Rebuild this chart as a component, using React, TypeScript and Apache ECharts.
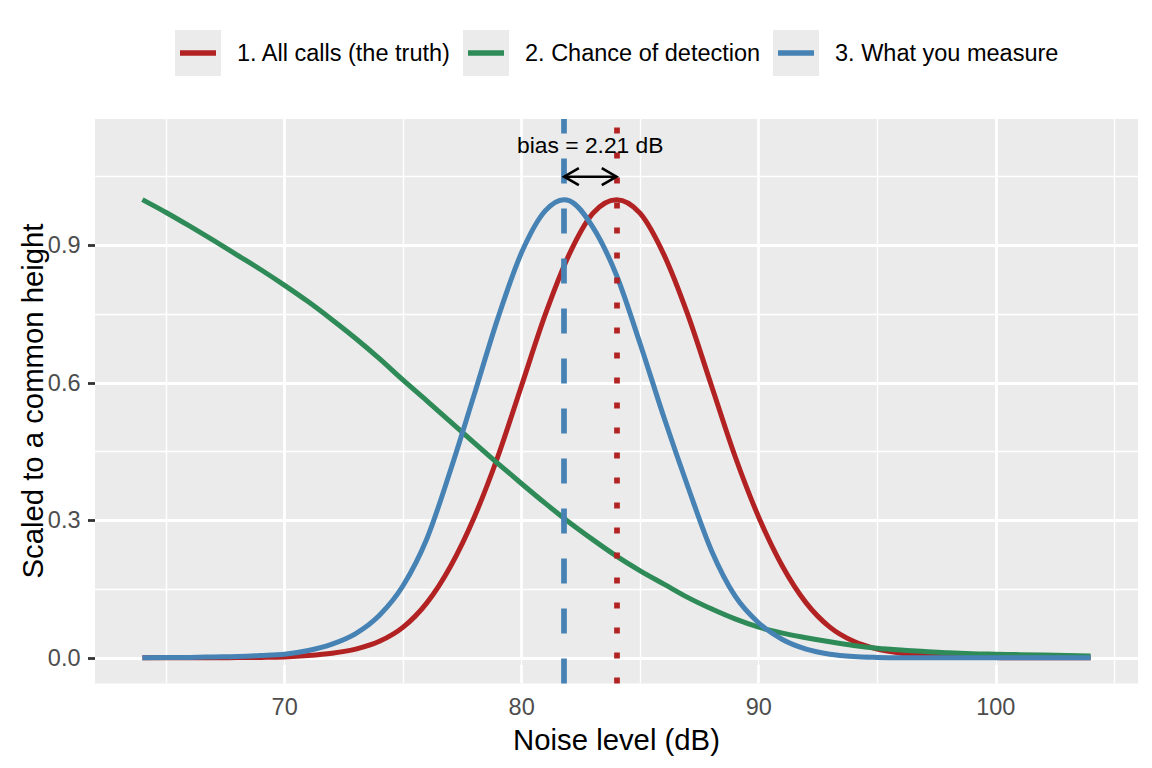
import React, { useEffect, useRef } from "react";
import * as echarts from "echarts";

// ---- data ----
const noiseLevels = [
  64, 65, 66, 67, 68, 69, 70, 71, 72, 73, 74, 75, 76, 77, 78, 79, 80, 81, 82, 83, 84,
  85, 86, 87, 88, 89, 90, 91, 92, 93, 94, 95, 96, 97, 98, 99, 100, 101, 102, 103, 104,
];
const truthCurve = [
  0, 0, 0, 0, 0.0005, 0.001, 0.002, 0.005, 0.01, 0.019, 0.036, 0.067, 0.12, 0.2, 0.307, 0.44, 0.595, 0.75, 0.88, 0.97, 1.0,
  0.97, 0.88, 0.75, 0.595, 0.44, 0.307, 0.2, 0.12, 0.067, 0.036, 0.019, 0.01, 0.005, 0.002, 0.001, 0.0005, 0, 0, 0, 0,
];
const detectionCurve = [
  1.0, 0.972, 0.942, 0.911, 0.879, 0.847, 0.813, 0.777, 0.738, 0.697, 0.653, 0.606, 0.561, 0.515, 0.469, 0.424, 0.38, 0.337, 0.296, 0.258, 0.222,
  0.19, 0.161, 0.132, 0.107, 0.085, 0.067, 0.054, 0.044, 0.035, 0.027, 0.021, 0.017, 0.014, 0.011, 0.009, 0.008, 0.007, 0.006, 0.005, 0.004,
];
const measuredCurve = [
  0, 0.0005, 0.001, 0.002, 0.003, 0.005, 0.008, 0.016, 0.03, 0.053, 0.093, 0.158, 0.26, 0.41, 0.575, 0.742, 0.885, 0.976, 0.998, 0.94, 0.835,
  0.685, 0.525, 0.375, 0.235, 0.135, 0.076, 0.04, 0.019, 0.008, 0.003, 0.001, 0, 0, 0, 0, 0, 0, 0, 0, 0,
];
const truthMean = 84;
const measuredMean = 81.79;
const measuredPeak = 1.0;
const biasLabel = "bias = 2.21 dB";
const arrowLevel = 1.05;
const labelLevel = 1.12;

const xTicks = [70, 80, 90, 100];
const xMinorTicks = [65, 75, 85, 95, 105];
const yTicks = [0, 0.3, 0.6, 0.9];
const yMinorTicks = [0.15, 0.45, 0.75, 1.05];

const seriesNames = ["1. All calls (the truth)", "2. Chance of detection", "3. What you measure"];
const seriesColors = ["#B22222", "#2E8B57", "#4682B4"];
const xTitle = "Noise level (dB)";
const yTitle = "Scaled to a common height";

const FONT = '"Liberation Sans", Arial, Helvetica, sans-serif';

// Smooth curve (cubic Hermite) through the data points, mapped by the chart's scales.
function curvePath(pts: number[][], api: any): string {
  const n = pts.length;
  const slopes: number[] = [];
  for (let i = 0; i < n; i++) {
    if (i === 0) {
      slopes.push((pts[1][1] - pts[0][1]) / (pts[1][0] - pts[0][0]));
    } else if (i === n - 1) {
      slopes.push((pts[n - 1][1] - pts[n - 2][1]) / (pts[n - 1][0] - pts[n - 2][0]));
    } else {
      const h0 = pts[i][0] - pts[i - 1][0];
      const h1 = pts[i + 1][0] - pts[i][0];
      const s0 = (pts[i][1] - pts[i - 1][1]) / h0;
      const s1 = (pts[i + 1][1] - pts[i][1]) / h1;
      slopes.push((s0 * h1 + s1 * h0) / (h0 + h1));
    }
  }
  const p0 = api.coord(pts[0]);
  let d = `M${p0[0]},${p0[1]}`;
  for (let i = 0; i < n - 1; i++) {
    const h = pts[i + 1][0] - pts[i][0];
    const c1 = api.coord([pts[i][0] + h / 3, pts[i][1] + (slopes[i] * h) / 3]);
    const c2 = api.coord([pts[i + 1][0] - h / 3, pts[i + 1][1] - (slopes[i + 1] * h) / 3]);
    const e = api.coord(pts[i + 1]);
    d += ` C${c1[0]},${c1[1]} ${c2[0]},${c2[1]} ${e[0]},${e[1]}`;
  }
  return d;
}

export default function App() {
  const ref = useRef<HTMLDivElement>(null);

  useEffect(() => {
    if (!ref.current) return;
    const chart = echarts.init(ref.current, undefined, { renderer: "svg" });

    const truthData = noiseLevels.map((x, i) => [x, truthCurve[i]]);
    const detectionData = noiseLevels.map((x, i) => [x, detectionCurve[i]]);
    const measuredData = noiseLevels
      .map((x, i) => [x, measuredCurve[i]])
      .concat([[measuredMean, measuredPeak]])
      .sort((a, b) => a[0] - b[0]);
    const curves = [truthData, detectionData, measuredData];

    const gridLines = [
      ...xTicks.map((v) => ({ xAxis: v, lineStyle: { width: 2.8 } })),
      ...xMinorTicks.map((v) => ({ xAxis: v, lineStyle: { width: 1.4 } })),
      ...yTicks.map((v) => ({ yAxis: v, lineStyle: { width: 2.8 } })),
      ...yMinorTicks.map((v) => ({ yAxis: v, lineStyle: { width: 1.4 } })),
    ];

    const keyX = [175, 463, 773];
    const legendGraphics: any[] = [];
    seriesNames.forEach((name, i) => {
      legendGraphics.push({
        type: "rect",
        shape: { x: keyX[i], y: 30, width: 46, height: 46 },
        style: { fill: "#EBEBEB" },
      });
      legendGraphics.push({
        type: "line",
        shape: { x1: keyX[i] + 5, y1: 53, x2: keyX[i] + 41, y2: 53 },
        style: { stroke: seriesColors[i], lineWidth: 5.5 },
      });
      legendGraphics.push({
        type: "text",
        x: keyX[i] + 62,
        y: 53,
        style: {
          text: name,
          fill: "#000000",
          font: `23.5px ${FONT}`,
          textAlign: "left",
          textVerticalAlign: "middle",
        },
      });
    });

    const curveSeries = curves.map((pts, k) => ({
      type: "custom",
      name: seriesNames[k],
      z: 3,
      silent: true,
      encode: { x: 0, y: 1 },
      data: pts,
      renderItem: (params: any, api: any) => {
        if (params.dataIndex !== 0) return null;
        return {
          type: "path",
          shape: { pathData: curvePath(pts, api) },
          style: {
            stroke: seriesColors[k],
            lineWidth: 5,
            fill: "none",
            lineJoin: "round",
            lineCap: "butt",
          },
        };
      },
    }));

    chart.setOption({
      animation: false,
      backgroundColor: "#FFFFFF",
      textStyle: { fontFamily: FONT },
      grid: {
        left: 95,
        right: 14,
        top: 119,
        bottom: 84.5,
        show: true,
        backgroundColor: "#EBEBEB",
        borderWidth: 0,
        containLabel: false,
        outerBoundsMode: "none",
      },
      xAxis: {
        type: "value",
        min: 62,
        max: 106,
        axisLine: { show: false },
        splitLine: { show: false },
        axisTick: {
          show: true,
          customValues: xTicks,
          length: 7,
          lineStyle: { color: "#333333", width: 2.8 },
        },
        axisLabel: {
          customValues: xTicks,
          color: "#4D4D4D",
          fontSize: 23.5,
          fontFamily: FONT,
          margin: 11,
        },
      },
      yAxis: {
        type: "value",
        min: -0.056,
        max: 1.176,
        axisLine: { show: false },
        splitLine: { show: false },
        axisTick: {
          show: true,
          customValues: yTicks,
          length: 7,
          lineStyle: { color: "#333333", width: 2.8 },
        },
        axisLabel: {
          customValues: yTicks,
          color: "#4D4D4D",
          fontSize: 23.5,
          fontFamily: FONT,
          margin: 14.5,
          formatter: (v: number) => v.toFixed(1),
        },
      },
      graphic: [
        ...legendGraphics,
        {
          type: "text",
          x: 616.5,
          y: 739,
          style: {
            text: xTitle,
            fill: "#000000",
            font: `29.3px ${FONT}`,
            textAlign: "center",
            textVerticalAlign: "middle",
          },
        },
        {
          type: "text",
          x: 32,
          y: 401,
          rotation: Math.PI / 2,
          style: {
            text: yTitle,
            fill: "#000000",
            font: `29.3px ${FONT}`,
            textAlign: "center",
            textVerticalAlign: "middle",
          },
        },
      ],
      series: [
        {
          type: "line",
          name: "grid",
          data: [[64, 0]],
          showSymbol: false,
          symbol: "none",
          lineStyle: { width: 0, opacity: 0 },
          silent: true,
          markLine: {
            z: 1,
            silent: true,
            symbol: "none",
            label: { show: false },
            lineStyle: { color: "#FFFFFF", type: "solid" },
            emphasis: { disabled: true },
            data: gridLines,
          },
        },
        ...curveSeries,
        {
          type: "line",
          name: "means",
          data: [[64, 0]],
          showSymbol: false,
          symbol: "none",
          lineStyle: { width: 0, opacity: 0 },
          silent: true,
          markLine: {
            z: 5,
            silent: true,
            symbol: "none",
            label: { show: false },
            emphasis: { disabled: true },
            data: [
              {
                xAxis: truthMean,
                lineStyle: { color: seriesColors[0], width: 5.7, type: [6, 19], cap: "butt" },
              },
              {
                xAxis: measuredMean,
                lineStyle: { color: seriesColors[2], width: 5.7, type: [25, 25], cap: "butt" },
              },
            ],
          },
        },
        {
          type: "custom",
          name: "bias",
          z: 6,
          silent: true,
          data: [[measuredMean, truthMean, arrowLevel, labelLevel]],
          renderItem: (params: any, api: any) => {
            const a = api.coord([api.value(0), api.value(2)]);
            const b = api.coord([api.value(1), api.value(2)]);
            const t = api.coord([(api.value(0) + api.value(1)) / 2, api.value(3)]);
            const L = 17;
            const ang = Math.PI / 6;
            const dx = L * Math.cos(ang);
            const dy = L * Math.sin(ang);
            const stroke = { stroke: "#000000", lineWidth: 2.6, fill: null };
            return {
              type: "group",
              children: [
                { type: "line", shape: { x1: a[0], y1: a[1], x2: b[0], y2: b[1] }, style: stroke },
                {
                  type: "polyline",
                  shape: { points: [[a[0] + dx, a[1] - dy], [a[0], a[1]], [a[0] + dx, a[1] + dy]] },
                  style: stroke,
                },
                {
                  type: "polyline",
                  shape: { points: [[b[0] - dx, b[1] - dy], [b[0], b[1]], [b[0] - dx, b[1] + dy]] },
                  style: stroke,
                },
                {
                  type: "text",
                  x: t[0],
                  y: t[1],
                  style: {
                    text: biasLabel,
                    fill: "#000000",
                    font: `22.8px ${FONT}`,
                    textAlign: "center",
                    textVerticalAlign: "middle",
                  },
                },
              ],
            };
          },
        },
      ],
    });

    return () => chart.dispose();
  }, []);

  return (
    <div
      ref={ref}
      style={{ position: "absolute", left: 0, top: 0, width: 1152, height: 768 }}
    />
  );
}
